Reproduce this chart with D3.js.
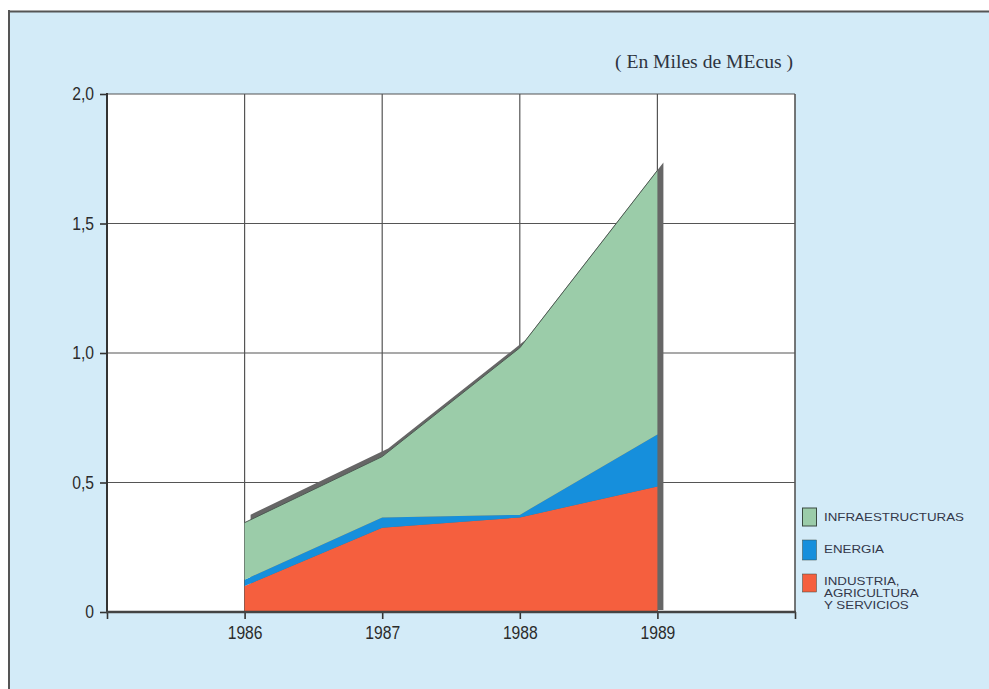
<!DOCTYPE html>
<html><head><meta charset="utf-8">
<script src="https://cdn.jsdelivr.net/npm/d3@7"></script>
<style>
html,body{margin:0;padding:0;background:#fff;}
svg{display:block;}
</style></head>
<body><svg id="c" width="989" height="689"></svg>
<script>
const years = [1986, 1987, 1988, 1989];
const industria = [0.10, 0.325, 0.365, 0.485];
const energia = [0.025, 0.04, 0.01, 0.20];
const infraestructuras = [0.22, 0.235, 0.645, 1.02];
const yTicks = [0, 0.5, 1.0, 1.5, 2.0];
const xTicks = [1985, 1986, 1987, 1988, 1989, 1990];
const xLabels = [1986, 1987, 1988, 1989];
const seriesNames = ["INFRAESTRUCTURAS", "ENERGIA", "INDUSTRIA, AGRICULTURA Y SERVICIOS"];
const legendLines = [["INFRAESTRUCTURAS"], ["ENERGIA"], ["INDUSTRIA,", "AGRICULTURA", "Y SERVICIOS"]];
const unitLabel = "( En Miles de MEcus )";

const colors = {infra: "#9bcca9", energia: "#168fdc", industria: "#f55f3e", shadow: "#666666"};

const svg = d3.select("#c");
svg.append("rect").attr("x", 9).attr("y", 11).attr("width", 980).attr("height", 678).attr("fill", "#d3ebf8");
svg.append("line").attr("x1", 8).attr("x2", 989).attr("y1", 11.5).attr("y2", 11.5).attr("stroke", "#555").attr("stroke-width", 2.2);
svg.append("line").attr("x1", 9).attr("x2", 9).attr("y1", 10).attr("y2", 689).attr("stroke", "#555").attr("stroke-width", 2);

const L = 107, R = 795, T = 94, B = 612;
const x = d3.scaleLinear().domain([1985, 1990]).range([L, R]);
const y = d3.scaleLinear().domain([0, 2]).range([B, T]);

svg.append("rect").attr("x", L).attr("y", T).attr("width", R - L).attr("height", B - T).attr("fill", "#fff");

const g = svg.append("g");
g.selectAll(".hg").data(yTicks.filter(d => d > 0)).enter().append("line")
  .attr("x1", L).attr("x2", R).attr("y1", d => y(d)).attr("y2", d => y(d))
  .attr("stroke", "#555").attr("stroke-width", 1.2);
g.selectAll(".vg").data(xTicks.filter(d => d > 1985)).enter().append("line")
  .attr("x1", d => x(d)).attr("x2", d => x(d)).attr("y1", T).attr("y2", B)
  .attr("stroke", "#555").attr("stroke-width", d => d === 1990 ? 1.6 : 1.2);

const rows = years.map((yr, i) => ({year: yr, industria: industria[i], energia: energia[i], infra: infraestructuras[i]}));
const stack = d3.stack().keys(["industria", "energia", "infra"])(rows);

// 3D edge shadow
const dx = 6, dy = -8;
const shadowArea = d3.area()
  .x(d => x(d.data.year) + dx)
  .y0(d => y(0) - 2)
  .y1(d => y(d[1]) + dy);
svg.append("path").datum(stack[2]).attr("d", shadowArea).attr("fill", colors.shadow);

const area = d3.area().x(d => x(d.data.year)).y0(d => y(d[0])).y1(d => y(d[1]));
const fills = [colors.industria, colors.energia, colors.infra];
svg.selectAll(".layer").data(stack).enter().append("path")
  .attr("d", area).attr("fill", (d, i) => fills[i]);
const topLine = d3.line().x(d => x(d.data.year)).y(d => y(d[1]));
svg.append("path").datum(stack[2]).attr("d", topLine).attr("fill", "none").attr("stroke", "#4d5a52").attr("stroke-width", 1);

function squeeze(sel, factor) {
  sel.each(function() {
    const w = this.getComputedTextLength();
    if (w > 0) d3.select(this).attr("textLength", w * factor).attr("lengthAdjust", "spacingAndGlyphs");
  });
}

const yAxis = d3.axisLeft(y).tickValues(yTicks).tickSize(7).tickPadding(6)
  .tickFormat(d => d === 0 ? "0" : d3.format(".1f")(d).replace(".", ","));
const ya = svg.append("g").attr("transform", `translate(${L},0)`).call(yAxis);
const xAxis = d3.axisBottom(x).tickValues(xTicks).tickSize(7).tickPadding(7)
  .tickFormat(d => xLabels.includes(d) ? String(d) : "");
const xa = svg.append("g").attr("transform", `translate(0,${B})`).call(xAxis);
[ya, xa].forEach(a => {
  a.attr("font-size", null).attr("font-family", null);
  a.select(".domain").remove();
  a.selectAll(".tick line").attr("stroke", "#333").attr("stroke-width", 1.6);
  a.selectAll(".tick text").style("font-family", "Liberation Sans, Arial, sans-serif")
    .style("font-size", "18px").attr("fill", "#2b2b2b");
  squeeze(a.selectAll(".tick text"), 0.87);
});
svg.append("line").attr("x1", L).attr("x2", L).attr("y1", T - 1).attr("y2", B + 1).attr("stroke", "#333").attr("stroke-width", 2);
svg.append("line").attr("x1", L - 1).attr("x2", R + 1).attr("y1", B).attr("y2", B).attr("stroke", "#444").attr("stroke-width", 2.5);

const unit = svg.append("text").attr("x", 793).attr("y", 68).attr("text-anchor", "end")
  .style("font-family", "Liberation Serif, Times New Roman, serif").style("font-size", "19px")
  .attr("fill", "#2e3440").text(unitLabel);
unit.attr("textLength", 178).attr("lengthAdjust", "spacingAndGlyphs");

const legendY = [508, 540, 574];
const swatchH = [18, 20, 18];
const legendFill = [colors.infra, colors.energia, colors.industria];
const lg = svg.append("g");
seriesNames.forEach((name, i) => {
  lg.append("rect").attr("x", 802.5).attr("y", legendY[i]).attr("width", 14).attr("height", swatchH[i])
    .attr("fill", legendFill[i]).attr("stroke", "#3a4a40").attr("stroke-width", i === 0 ? 1 : 0.5);
  legendLines[i].forEach((ln, j) => {
    const t = lg.append("text").attr("x", 824).attr("y", legendY[i] + (i === 2 ? 10.5 : 13) + j * 12)
      .style("font-family", "Liberation Sans, Arial, sans-serif").style("font-size", "11.6px")
      .attr("fill", "#34384a").text(ln);
    squeeze(t, 1.15);
  });
});
</script></body></html>
